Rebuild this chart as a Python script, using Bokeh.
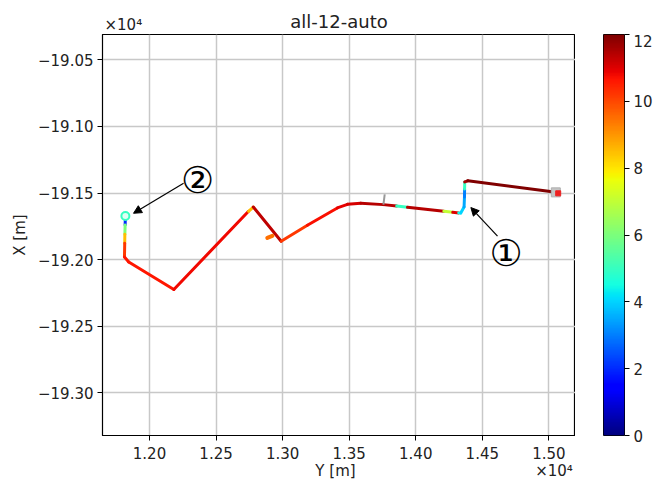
import numpy as np
from bokeh.plotting import figure
from bokeh.layouts import column, row
from bokeh.models import (ColumnDataSource, LinearColorMapper, FixedTicker, LinearAxis,
                          CustomJSTickFormatter, Label, Arrow, NormalHead)
from bokeh.core.properties import value
from bokeh.transform import transform
from bokeh.embed import file_html
from bokeh.resources import INLINE

FONT = "DejaVu Sans"
TXT = "#222222"

# Track: horizontal axis is "Y [m]", vertical axis is "X [m]"
track_y = [11819, 11817, 11815, 11814, 11812, 11844, 12183, 12744, 12780, 12989,
           13186, 13411, 13487, 13587, 13757, 13857, 13938, 14211, 14278, 14323,
           14338, 14363, 14366, 14367, 14368, 14391, 15040, 15070]
track_x = [-191672, -191740, -191810, -191877, -191980, -192017, -192224, -191637, -191605, -191862,
           -191742, -191612, -191585, -191576, -191587, -191598, -191607, -191637, -191645, -191649,
           -191650, -191605, -191530, -191470, -191417, -191408, -191492, -191502]
# value of each segment starting at the point (last entry unused)
track_val = [2.0, 6.0, 8.5, 10.2, 10.6, 10.6, 10.8, 8.5, 11.3, 10.2,
             10.7, 10.9, 11.1, 11.4, 11.4, 5.0, 11.4, 7.0, 11.0, 4.5,
             4.0, 3.5, 3.0, 5.0, 11.5, 12.0, 12.0, 12.0]

stub_gray_y = [13757, 13767]
stub_gray_x = [-191587, -191510]
stub_red_y = [12885, 12923]
stub_red_x = [-191837, -191822]
stub_red_val = 9.5

start_y = [11819]
start_x = [-191672]
start_val = [5.0]
end_y = [15052, 15070]
end_x = [-191495, -191502]

x_ticks = [12000, 12500, 13000, 13500, 14000, 14500, 15000]
y_ticks = [-190500, -191000, -191500, -192000, -192500, -193000]
cbar_ticks = [0, 2, 4, 6, 8, 10, 12]
title_text = "all-12-auto"
x_label = "Y [m]"
y_label = "X [m]"
offset_text = "×10⁴"

# matplotlib "jet" colormap
t = np.linspace(0, 1, 256)
r = np.interp(t, [0, 0.35, 0.66, 0.89, 1], [0, 0, 1, 1, 0.5])
g = np.interp(t, [0, 0.125, 0.375, 0.64, 0.91, 1], [0, 0, 1, 1, 0, 0])
b = np.interp(t, [0, 0.11, 0.34, 0.65, 1], [0.5, 1, 1, 0, 0])
jet = ["#%02x%02x%02x" % (int(round(a * 255)), int(round(bb * 255)), int(round(c * 255)))
       for a, bb, c in zip(r, g, b)]
mapper = LinearColorMapper(palette=jet, low=0, high=12)


def jet_of(v):
    return jet[min(255, int(v / 12 * 256))]


# ---------- header: title and offset text of the vertical axis ----------
head = figure(frame_width=653, frame_height=34, output_backend="svg", toolbar_location=None,
              title=None, x_range=(0, 653), y_range=(34, 0), min_border=0,
              x_axis_location=None, y_axis_location=None)
head.outline_line_color = None
head.grid.visible = False
head.text(x=[338.5], y=[20.5], text=[title_text], text_font=value(FONT), text_font_size="18px",
          text_align="center", text_baseline="middle", text_color=TXT)
head.text(x=[104], y=[24.0], text=[offset_text], text_font=value(FONT), text_font_size="15px",
          text_align="left", text_baseline="middle", text_color=TXT)

# ---------- main plot ----------
p = figure(frame_width=473, frame_height=401, output_backend="svg", toolbar_location=None,
           title=None, x_range=(11647, 15200), y_range=(-193320, -190310),
           min_border_left=102, min_border_top=0, min_border_bottom=47, min_border_right=0)

p.outline_line_color = "black"
p.outline_line_width = 1.2
fmt = CustomJSTickFormatter(code="return (tick/1e4).toFixed(2).replace('-', '\u2212');")
for ax in (p.xaxis[0], p.yaxis[0]):
    ax.axis_line_color = "black"
    ax.major_tick_line_color = "black"
    ax.minor_tick_line_color = None
    ax.major_tick_out = 5
    ax.major_tick_in = 0
    ax.major_label_text_font = FONT
    ax.major_label_text_font_size = "15px"
    ax.major_label_text_color = TXT
    ax.axis_label_text_font = FONT
    ax.axis_label_text_font_size = "15px"
    ax.axis_label_text_font_style = "normal"
    ax.axis_label_text_color = TXT
    ax.formatter = fmt
p.xaxis[0].ticker = FixedTicker(ticks=x_ticks)
p.yaxis[0].ticker = FixedTicker(ticks=y_ticks)
p.xaxis[0].major_label_standoff = 6
p.yaxis[0].major_label_standoff = 4
p.yaxis[0].axis_label = y_label
p.yaxis[0].axis_label_standoff = 6
p.grid.grid_line_color = "#c8c8c8"
p.grid.grid_line_width = 1.5

# second row under the x axis: axis name (centred) and offset text (right)
row2 = LinearAxis(ticker=FixedTicker(ticks=[13397, 15039]),
                  formatter=CustomJSTickFormatter(
                      code="return tick > 14000 ? '%s' : '%s';" % (offset_text, x_label)),
                  axis_line_color=None, major_tick_line_color=None, minor_tick_line_color=None,
                  major_tick_out=0, major_tick_in=0, major_label_standoff=0,
                  major_label_text_font=FONT, major_label_text_font_size="15px",
                  major_label_text_color=TXT)
p.add_layout(row2, "below")

src = ColumnDataSource(dict(h0=track_y[:-1], v0=track_x[:-1], h1=track_y[1:], v1=track_x[1:],
                            val=track_val[:-1]))
p.segment(x0="h0", y0="v0", x1="h1", y1="v1", source=src,
          line_color=transform("val", mapper), line_width=3, line_cap="round")
p.line(stub_gray_y, stub_gray_x, line_color="#999999", line_width=2)
p.line(stub_red_y, stub_red_x, line_color=jet_of(stub_red_val), line_width=4, line_cap="round")
p.scatter(start_y, start_x, marker="circle", size=8, fill_color="#e0fff4",
          line_color=jet_of(start_val[0]), line_width=2)
p.scatter(end_y[:1], end_x[:1], marker="square", size=9, fill_color="#c4c4c4", line_color="#b0b0b0")
p.scatter(end_y[1:], end_x[1:], marker="square", size=5, fill_color="#ee2020", line_color="#ee2020")

# annotations
p.add_layout(Arrow(end=NormalHead(size=8, fill_color="black", line_color="black"),
                   x_start=12256, y_start=-191427, x_end=11880, y_end=-191652,
                   line_color="black", line_width=1.2))
p.add_layout(Arrow(end=NormalHead(size=8, fill_color="black", line_color="black"),
                   x_start=14614, y_start=-191824, x_end=14414, y_end=-191609,
                   line_color="black", line_width=1.2))
p.add_layout(Label(x=12361, y=-191405, text="②", text_font=FONT, text_font_size="37px",
                   text_align="center", text_baseline="middle", text_color="black"))
p.add_layout(Label(x=14678, y=-191954, text="①", text_font=FONT, text_font_size="37px",
                   text_align="center", text_baseline="middle", text_color="black"))

# ---------- colour bar ----------
cbf = figure(frame_width=21, frame_height=401, output_backend="svg", toolbar_location=None,
             title=None, x_range=(0, 1), y_range=(0, 12), min_border_left=28, min_border_top=0,
             min_border_bottom=47, min_border_right=0,
             x_axis_location=None, y_axis_location="right")
cbf.grid.visible = False
cbf.outline_line_color = "black"
cbf.outline_line_width = 1
cbf.image(image=[np.linspace(0, 12, 256).reshape(256, 1)], x=0, y=0, dw=1, dh=12,
          color_mapper=mapper)
cax = cbf.yaxis[0]
cax.ticker = FixedTicker(ticks=cbar_ticks)
cax.axis_line_color = None
cax.major_tick_line_color = "black"
cax.minor_tick_line_color = None
cax.major_tick_out = 5
cax.major_tick_in = 0
cax.major_label_standoff = 4
cax.major_label_text_font = FONT
cax.major_label_text_font_size = "15px"
cax.major_label_text_color = TXT

layout = column(head, row(p, cbf, spacing=0), spacing=0)
open("out.html", "w").write(file_html(layout, INLINE))
